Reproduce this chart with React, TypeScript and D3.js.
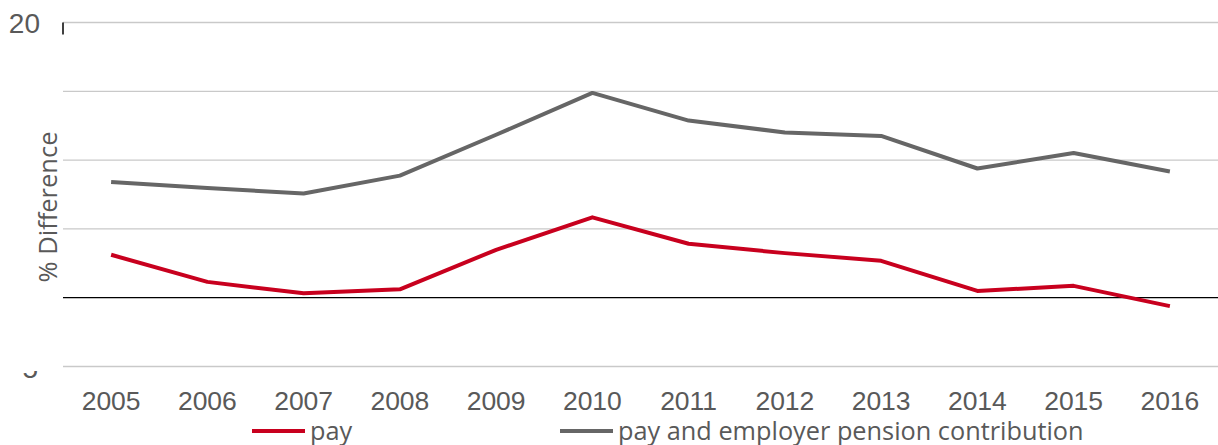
import React from "react";
import * as d3 from "d3";

const years = ["2005","2006","2007","2008","2009","2010","2011","2012","2013","2014","2015","2016"];
const payValues = [3.12, 1.15, 0.32, 0.61, 3.48, 5.84, 3.92, 3.24, 2.68, 0.49, 0.86, -0.61];
const payPensionValues = [8.41, 7.97, 7.57, 8.87, 11.84, 14.88, 12.87, 12.01, 11.76, 9.39, 10.51, 9.17];
const yTicks = [-5, 0, 5, 10, 15, 20];
const seriesNames = ["pay", "pay and employer pension contribution"];

const W = 1218, H = 445;
const RED = "#C8001E";
const GRAY = "#666666";
const TEXT = "#595959";

export default function App() {
  const x = d3.scaleBand<string>().domain(years).range([63, 1218]);
  const y = d3.scaleLinear().domain([-5, 20]).range([366.5, 22.5]);
  const line = d3.line<number>()
    .x((_, i) => (x(years[i]) as number) + x.bandwidth() / 2)
    .y((d) => y(d));

  return (
    <svg width={W} height={H} style={{ position: "absolute", left: 0, top: 0, background: "#fff" }}>
      <defs>
        <clipPath id="bottomClip">
          <rect x={22} y={371} width={30} height={20} />
        </clipPath>
      </defs>
      {yTicks.map((t) => (
        <line key={t} x1={63} x2={1218} y1={y(t)} y2={y(t)}
          stroke={t === 0 ? "#000" : "#c9c9c9"} strokeWidth={1.3} />
      ))}
      <line x1={63} x2={63} y1={y(20)} y2={y(20) + 12} stroke="#000" strokeWidth={1.5} />
      <text x={40} y={y(20) + 10} textAnchor="end" fontFamily="Liberation Sans, Arial, sans-serif"
        fontSize={28} fill={TEXT}>20</text>
      <g clipPath="url(#bottomClip)">
        <text x={38} y={y(-5) + 11} textAnchor="end" fontFamily="Liberation Sans, Arial, sans-serif"
          fontSize={28} fill={TEXT}>-5</text>
      </g>
      <text transform={`translate(57,207) rotate(-90)`} textAnchor="middle"
        fontFamily="Open Sans, sans-serif" fontSize={25.5} fill={TEXT}>% Difference</text>
      <path d={line(payPensionValues) || ""} fill="none" stroke={GRAY} strokeWidth={4} strokeLinejoin="round" />
      <path d={line(payValues) || ""} fill="none" stroke={RED} strokeWidth={4} strokeLinejoin="round" />
      {years.map((yr) => (
        <text key={yr} x={(x(yr) as number) + x.bandwidth() / 2} y={410} textAnchor="middle"
          fontFamily="Liberation Sans, Arial, sans-serif" fontSize={26.5} fill={TEXT}>{yr}</text>
      ))}
      <g>
        <line x1={252} x2={305} y1={431} y2={431} stroke={RED} strokeWidth={4} />
        <text x={310} y={440} fontFamily="Open Sans, sans-serif" fontSize={25.3} fill={TEXT}>{seriesNames[0]}</text>
        <line x1={560} x2={613} y1={431} y2={431} stroke={GRAY} strokeWidth={4} />
        <text x={618} y={440} fontFamily="Open Sans, sans-serif" fontSize={25.3} fill={TEXT}>{seriesNames[1]}</text>
      </g>
    </svg>
  );
}
